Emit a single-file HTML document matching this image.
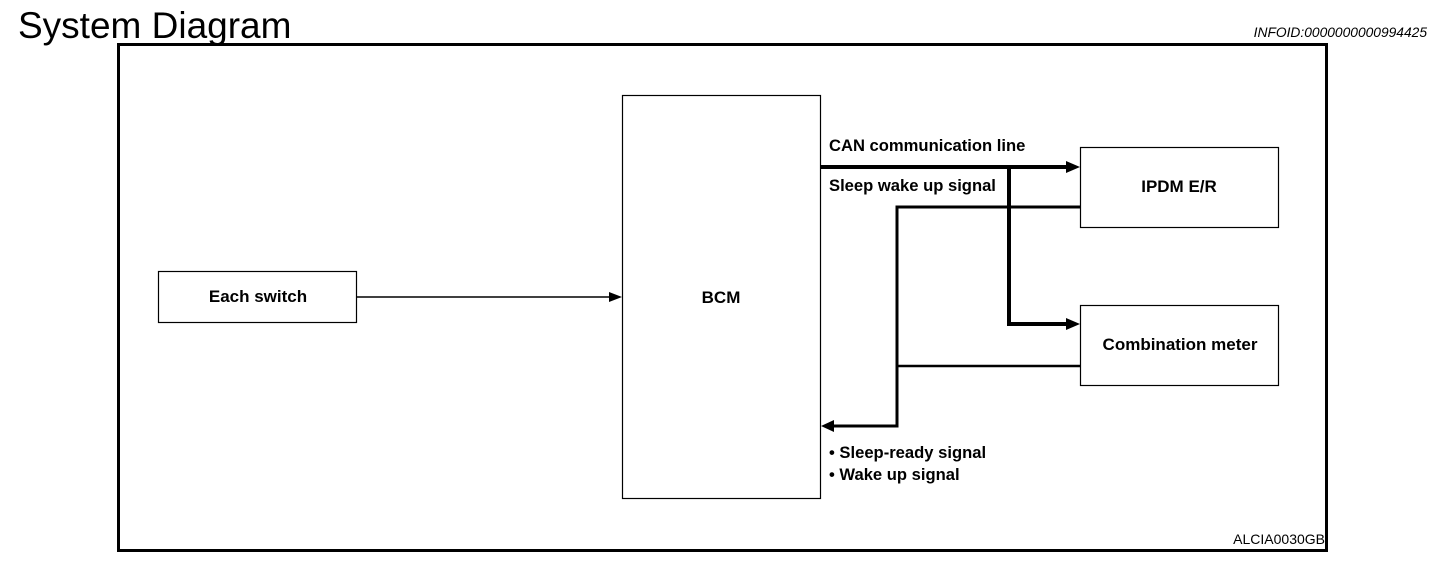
<!DOCTYPE html>
<html><head><style>
body{margin:0;background:#fff;width:1456px;height:576px;overflow:hidden;font-family:"Liberation Sans",Arial,sans-serif}
svg{position:absolute;left:0;top:0}
</style></head><body>
<svg width="1456" height="576" viewBox="0 0 1456 576" font-family="Liberation Sans, Arial, sans-serif">
<text x="18" y="38" font-size="37" fill="#000">System Diagram</text>
<text x="1427" y="37" font-size="13.8" font-style="italic" text-anchor="end" fill="#000">INFOID:0000000000994425</text>
<rect x="118.5" y="44.5" width="1208" height="506" fill="none" stroke="#000" stroke-width="3"/>
<g fill="none" stroke="#000" stroke-width="1.2">
<rect x="158.5" y="271.5" width="198" height="51"/>
<rect x="622.5" y="95.5" width="198" height="403"/>
<rect x="1080.5" y="147.5" width="198" height="80"/>
<rect x="1080.5" y="305.5" width="198" height="80"/>
</g>
<g font-size="17" font-weight="bold" fill="#000" text-anchor="middle">
<text x="258" y="302">Each switch</text>
<text x="721" y="303">BCM</text>
<text x="1179" y="192">IPDM E/R</text>
<text x="1180" y="350">Combination meter</text>
</g>
<g font-size="16.6" font-weight="bold" fill="#000">
<text x="829" y="151">CAN communication line</text>
<text x="829" y="191">Sleep wake up signal</text>
<text x="829" y="458">• Sleep-ready signal</text>
<text x="829" y="480">• Wake up signal</text>
</g>
<text x="1325" y="544" font-size="14" text-anchor="end" fill="#000">ALCIA0030GB</text>
<line x1="357" y1="297" x2="612" y2="297" stroke="#000" stroke-width="1.5"/>
<polygon points="622,297 609,292 609,302" fill="#000"/>
<g stroke="#000" fill="none">
<path d="M821 167 H1070" stroke-width="4"/>
<path d="M1009 167 V324 H1070" stroke-width="4"/>
<path d="M1080 207 H897 V426 H832" stroke-width="3"/>
<path d="M1080 366 H897" stroke-width="2.5"/>
</g>
<polygon points="1080,167 1066,161 1066,173" fill="#000"/>
<polygon points="1080,324 1066,318 1066,330" fill="#000"/>
<polygon points="821,426 834,420 834,432" fill="#000"/>
</svg>
</body></html>
